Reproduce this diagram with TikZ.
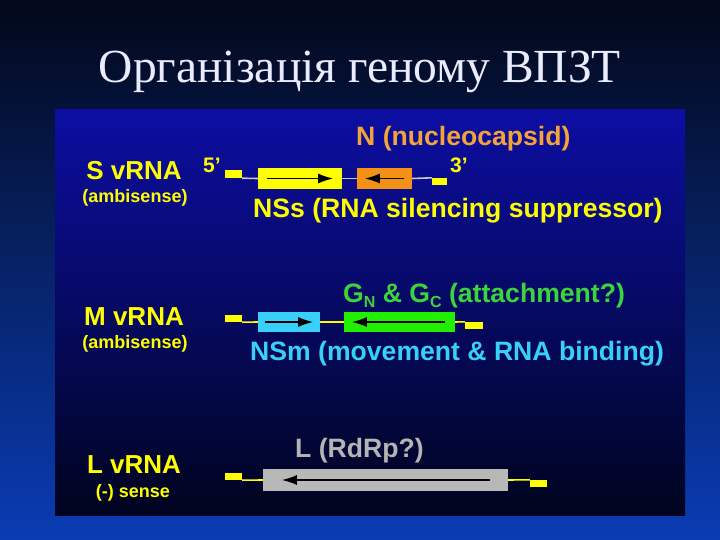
\documentclass[tikz,border=0pt]{standalone}
\usepackage{fontspec}
\setmainfont{Liberation Sans}
\newfontfamily\titlefont{Liberation Serif}
\usetikzlibrary{arrows.meta,calc}
\definecolor{bgtop}{HTML}{03081A}
\definecolor{bgmid}{HTML}{06185E}
\definecolor{bgbot}{HTML}{0A3CB4}
\definecolor{pantop}{HTML}{0C0EA2}
\definecolor{panmid}{HTML}{060A62}
\definecolor{panbot}{HTML}{00041E}
\definecolor{cyel}{HTML}{FFFF00}
\definecolor{corgtxt}{HTML}{F2A33A}
\definecolor{corgbox}{HTML}{F39018}
\definecolor{cgrntxt}{HTML}{3CD43C}
\definecolor{cgrnbox}{HTML}{22EE00}
\definecolor{ccyan}{HTML}{38D0F8}
\definecolor{cgraybox}{HTML}{B8B8B8}
\definecolor{cgraytxt}{HTML}{B4B4B4}
\definecolor{clineS}{HTML}{C8C8C8}
\tikzset{
  lbl/.style={font=\bfseries\fontsize{26.6}{28}\selectfont, inner sep=0pt, anchor=base west},
  seg/.style={font=\bfseries\fontsize{26}{27}\selectfont, inner sep=0pt, anchor=base, text=cyel},
  sub/.style={font=\bfseries\fontsize{18}{20}\selectfont, inner sep=0pt, anchor=base, text=cyel},
  endlbl/.style={font=\bfseries\fontsize{21}{23}\selectfont, inner sep=0pt, anchor=base, text=cyel},
  gene/.style={rectangle, draw=none, inner sep=0pt},
  tab/.style={rectangle, fill=cyel, inner sep=0pt},
  arr/.style={line width=1.6pt, -{Latex[length=15pt,width=10pt]}},
  rna/.style={line width=1.6pt}
}
\begin{document}
\begin{tikzpicture}[x=1pt,y=-1pt]
\useasboundingbox (0,0) rectangle (720,540);
\shade[top color=bgtop, middle color=bgmid, bottom color=bgbot] (0,0) rectangle (720,540);
\shade[top color=pantop, middle color=panmid, bottom color=panbot] (55,110) rectangle (685,515);

% title
\node[font=\titlefont\fontsize{47.5}{52}\selectfont, text=white!92!blue, inner sep=0pt, anchor=base] (title) at (360,83) {Організація геному ВПЗТ};

% ---------- S segment ----------
\node[seg] (sname) at (134,180) {S vRNA};
\node[sub] (ssub) at (135,203) {(ambisense)};
\node[endlbl] (s5) at (212,173) {5’};
\node[endlbl] (s3) at (459,173) {3’};
\node[tab, minimum width=17pt, minimum height=8pt] (st1) at (233.5,174) {};
\node[gene, fill=cyel, minimum width=84pt, minimum height=21pt] (sb1) at (300,178.5) {};
\node[gene, fill=corgbox, minimum width=55pt, minimum height=21pt] (sb2) at (384.5,178.5) {};
\node[tab, minimum width=15pt, minimum height=7pt] (st2) at (439.5,181.5) {};
\draw[rna, draw=clineS] (st1.south east) -- (sb1.west);
\draw[rna, draw=clineS] (sb1.east) -- (sb2.west);
\draw[rna, draw=clineS] (sb2.east) -- (st2.north west);
\draw[arr] ($(sb1.west)+(9,0)$) -- ($(sb1.east)+(-9,0)$);
\draw[arr] ($(sb2.east)+(-8,0)$) -- ($(sb2.west)+(8,0)$);
\node[lbl, text=corgtxt] (nlbl) at (356,146) {N (nucleocapsid)};
\node[lbl, text=cyel] (nsslbl) at (253,218) {NSs (RNA silencing suppressor)};

% ---------- M segment ----------
\node[seg] (mname) at (134,325) {M vRNA};
\node[sub] (msub) at (135,348) {(ambisense)};
\node[tab, minimum width=17pt, minimum height=7pt] (mt1) at (233.5,318.5) {};
\node[gene, fill=ccyan, minimum width=62pt, minimum height=20pt] (mb1) at (289,322) {};
\node[gene, fill=cgrnbox, minimum width=111pt, minimum height=20pt] (mb2) at (399.5,322) {};
\node[tab, minimum width=18pt, minimum height=7pt] (mt2) at (474,325.5) {};
\draw[rna, draw=cyel] (mt1.south east) -- (mb1.west);
\draw[rna, draw=cyel] (mb1.east) -- (mb2.west);
\draw[rna, draw=cyel] (mb2.east) -- (mt2.north west);
\draw[arr] ($(mb1.west)+(7,0)$) -- ($(mb1.east)+(-7,0)$);
\draw[arr] ($(mb2.east)+(-10,0)$) -- ($(mb2.west)+(8,0)$);
\node[lbl, text=cgrntxt] (glbl) at (343,302) {G{\fontsize{16}{16}\selectfont\raisebox{-5pt}{N}} \& G{\fontsize{16}{16}\selectfont\raisebox{-5pt}{C}} (attachment?)};
\node[lbl, text=ccyan] (nsmlbl) at (250,360) {NSm (movement \& RNA binding)};

% ---------- L segment ----------
\node[seg] (lname) at (134,473) {L vRNA};
\node[sub] (lsub) at (133,497) {(-) sense};
\node[tab, minimum width=17pt, minimum height=7pt] (lt1) at (233.5,476.5) {};
\node[gene, fill=cgraybox, minimum width=245pt, minimum height=22pt] (lb) at (385.5,480) {};
\node[tab, minimum width=17pt, minimum height=7pt] (lt2) at (538.5,483.5) {};
\draw[rna, draw=cyel] (lt1.south east) -- (lb.west);
\draw[rna, draw=cyel] (lb.east) -- (lt2.north west);
\draw[arr] ($(lb.east)+(-18,0)$) -- ($(lb.west)+(19,0)$);
\node[lbl, text=cgraytxt] (llbl) at (295,457) {L (RdRp?)};
\end{tikzpicture}
\end{document}
